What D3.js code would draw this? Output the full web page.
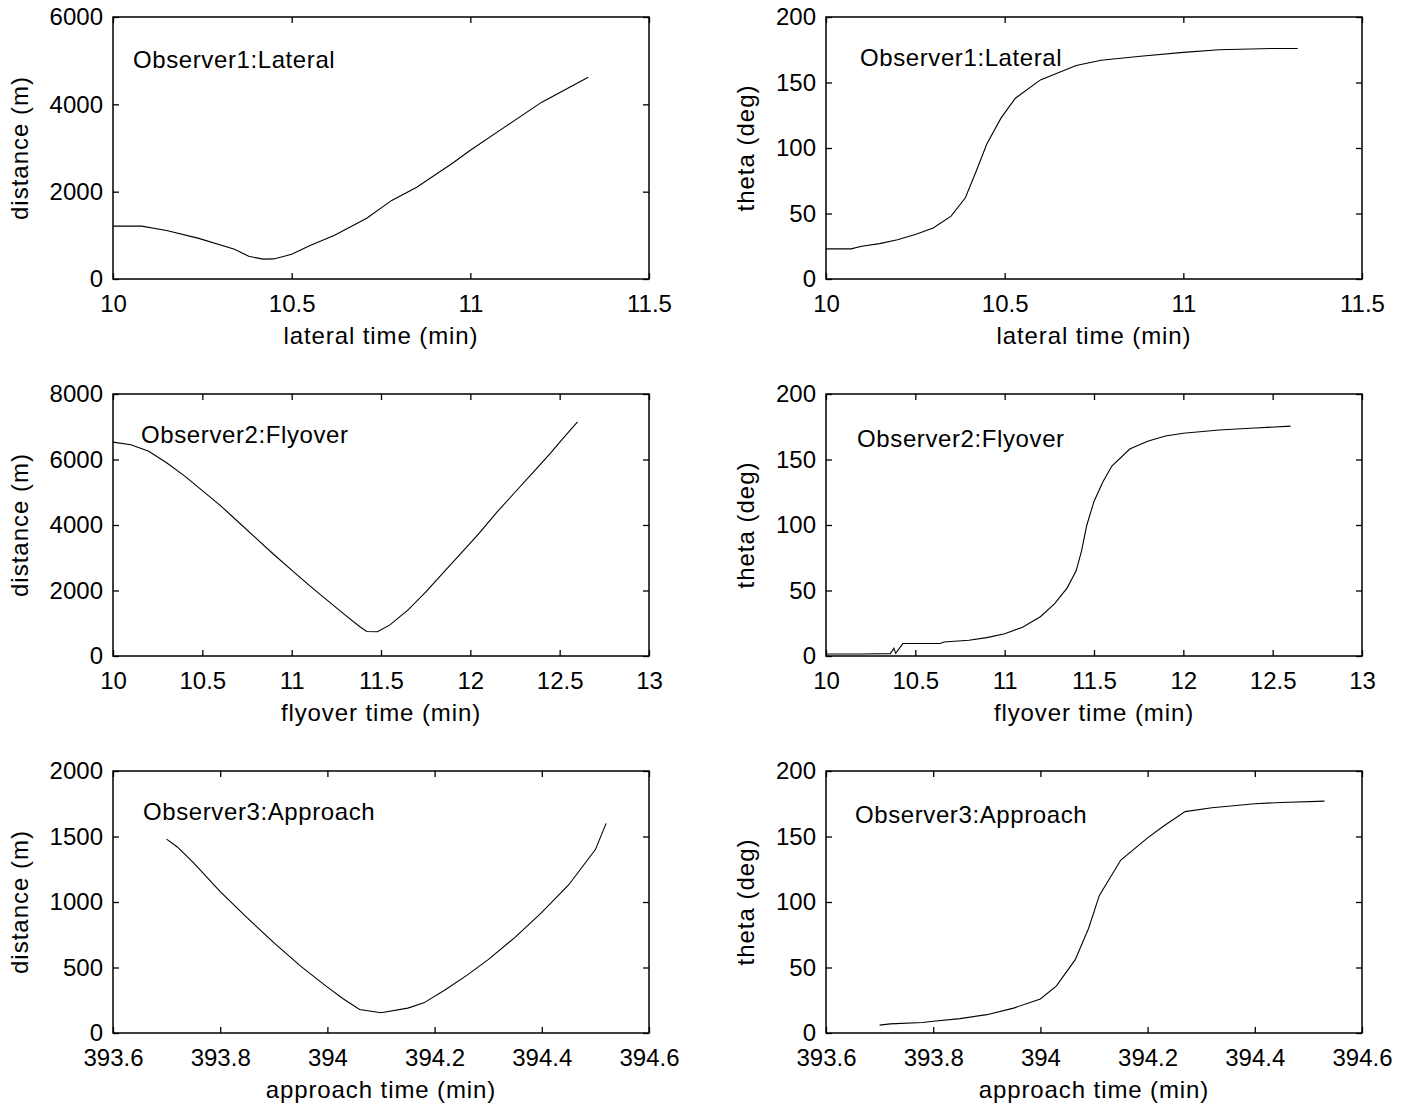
<!DOCTYPE html>
<html>
<head>
<meta charset="utf-8">
<script src="https://cdn.jsdelivr.net/npm/d3@7"></script>
<style>
  html, body { margin: 0; padding: 0; background: #fff; }
  svg text { font-family: "Liberation Sans", Arial, sans-serif; fill: #000; }
</style>
</head>
<body>
<svg id="chart" width="1409" height="1108"></svg>
<script>
// ---------- DATA ----------
// Observer1: Lateral
const lateralTime = [10.00, 10.08, 10.15, 10.24, 10.34, 10.38, 10.42, 10.45, 10.50, 10.55, 10.62, 10.71, 10.78, 10.85, 10.95, 11.00, 11.10, 11.20, 11.33];
const lateralDist = [1210, 1210, 1110, 930, 680, 520, 455, 460, 565, 760, 1000, 1390, 1800, 2100, 2650, 2950, 3500, 4050, 4620];
const lateralThetaTime = [10.00, 10.07, 10.10, 10.15, 10.20, 10.25, 10.30, 10.35, 10.39, 10.42, 10.45, 10.49, 10.53, 10.60, 10.70, 10.77, 10.88, 11.00, 11.10, 11.25, 11.32];
const lateralTheta = [23, 23, 25, 27, 30, 34, 39, 48, 62, 82, 103, 123, 138, 152, 163, 167, 170, 173, 175, 176, 176];

// Observer2: Flyover
const flyoverTime = [10.00, 10.10, 10.20, 10.30, 10.40, 10.50, 10.60, 10.70, 10.80, 10.90, 11.00, 11.10, 11.20, 11.30, 11.38, 11.42, 11.48, 11.55, 11.65, 11.75, 11.85, 11.95, 12.05, 12.15, 12.25, 12.35, 12.45, 12.52, 12.60];
const flyoverDist = [6530, 6450, 6250, 5900, 5500, 5050, 4600, 4100, 3600, 3100, 2620, 2150, 1700, 1250, 900, 750, 740, 950, 1400, 1950, 2550, 3150, 3750, 4400, 5000, 5600, 6200, 6650, 7150];
const flyoverThetaTime = [10.00, 10.20, 10.36, 10.38, 10.39, 10.43, 10.64, 10.66, 10.80, 10.90, 11.00, 11.10, 11.20, 11.28, 11.35, 11.40, 11.43, 11.46, 11.50, 11.55, 11.60, 11.70, 11.80, 11.90, 12.00, 12.20, 12.40, 12.60];
const flyoverTheta = [1.5, 1.5, 1.8, 6, 2, 9.5, 9.5, 10.7, 12, 14, 17, 22, 30, 40, 52, 65, 80, 100, 118, 133, 145, 158, 164, 168, 170, 172.5, 174, 175.5];

// Observer3: Approach
const approachTime = [393.70, 393.72, 393.75, 393.80, 393.85, 393.90, 393.95, 394.00, 394.03, 394.06, 394.10, 394.15, 394.18, 394.22, 394.26, 394.30, 394.35, 394.40, 394.45, 394.50, 394.52];
const approachDist = [1480, 1420, 1300, 1080, 880, 690, 510, 350, 260, 180, 155, 190, 230, 330, 440, 560, 730, 920, 1130, 1400, 1600];
const approachThetaTime = [393.70, 393.72, 393.78, 393.80, 393.85, 393.90, 393.95, 394.00, 394.03, 394.065, 394.09, 394.11, 394.15, 394.20, 394.23, 394.27, 394.32, 394.40, 394.45, 394.53];
const approachTheta = [6, 7, 8, 9, 11, 14, 19, 26, 36, 56, 80, 105, 132, 149, 158, 169, 172, 175, 176, 177];

// Tick values
const ticksLatX = [10, 10.5, 11, 11.5];
const ticksFlyX = [10, 10.5, 11, 11.5, 12, 12.5, 13];
const ticksAppX = [393.6, 393.8, 394, 394.2, 394.4, 394.6];
const ticksLatDist = [0, 2000, 4000, 6000];
const ticksFlyDist = [0, 2000, 4000, 6000, 8000];
const ticksAppDist = [0, 500, 1000, 1500, 2000];
const ticksTheta = [0, 50, 100, 150, 200];

// Labels
const xLabels = ["lateral time (min)", "flyover time (min)", "approach time (min)"];
const yLabels = ["distance (m)", "theta (deg)"];
const panelTitles = ["Observer1:Lateral", "Observer2:Flyover", "Observer3:Approach"];
// title anchor positions (data coords): [x, y]
const titlePosDist = [[10.056, 5015], [10.157, 6748], [393.656, 1687]];
const titlePosTheta = [[10.095, 169], [10.174, 166], [393.654, 167]];

// ---------- LAYOUT ----------
const svg = d3.select("#chart");
const colX = [[113, 649], [826, 1362]];
const rowTop = [17, 394, 771];
const plotH = 262;
const FS = 24;

const panels = [
  {row: 0, col: 0, xd: [10, 11.5], yd: [0, 6000], xt: ticksLatX, yt: ticksLatDist, xs: lateralTime, ys: lateralDist, xl: xLabels[0], yl: yLabels[0], title: panelTitles[0], tp: titlePosDist[0]},
  {row: 0, col: 1, xd: [10, 11.5], yd: [0, 200], xt: ticksLatX, yt: ticksTheta, xs: lateralThetaTime, ys: lateralTheta, xl: xLabels[0], yl: yLabels[1], title: panelTitles[0], tp: titlePosTheta[0]},
  {row: 1, col: 0, xd: [10, 13], yd: [0, 8000], xt: ticksFlyX, yt: ticksFlyDist, xs: flyoverTime, ys: flyoverDist, xl: xLabels[1], yl: yLabels[0], title: panelTitles[1], tp: titlePosDist[1]},
  {row: 1, col: 1, xd: [10, 13], yd: [0, 200], xt: ticksFlyX, yt: ticksTheta, xs: flyoverThetaTime, ys: flyoverTheta, xl: xLabels[1], yl: yLabels[1], title: panelTitles[1], tp: titlePosTheta[1]},
  {row: 2, col: 0, xd: [393.6, 394.6], yd: [0, 2000], xt: ticksAppX, yt: ticksAppDist, xs: approachTime, ys: approachDist, xl: xLabels[2], yl: yLabels[0], title: panelTitles[2], tp: titlePosDist[2]},
  {row: 2, col: 1, xd: [393.6, 394.6], yd: [0, 200], xt: ticksAppX, yt: ticksTheta, xs: approachThetaTime, ys: approachTheta, xl: xLabels[2], yl: yLabels[1], title: panelTitles[2], tp: titlePosTheta[2]}
];

const fmt = d => String(+d.toFixed(4));

panels.forEach(p => {
  const [x0, x1] = colX[p.col];
  const y0 = rowTop[p.row], y1 = y0 + plotH;
  const x = d3.scaleLinear().domain(p.xd).range([x0, x1]);
  const y = d3.scaleLinear().domain(p.yd).range([y1, y0]);
  const g = svg.append("g");

  // line
  const pts = p.xs.map((t, i) => [t, p.ys[i]]);
  g.append("path")
    .datum(pts)
    .attr("fill", "none")
    .attr("stroke", "#000")
    .attr("stroke-width", 1.1)
    .attr("d", d3.line().x(d => x(d[0])).y(d => y(d[1])));

  const tk = 6;
  const ax = g.append("g").attr("transform", `translate(0,${y1})`)
    .call(d3.axisBottom(x).tickValues(p.xt).tickFormat(fmt).tickSizeInner(-tk).tickSizeOuter(0).tickPadding(16));
  const at = g.append("g").attr("transform", `translate(0,${y0})`)
    .call(d3.axisTop(x).tickValues(p.xt).tickFormat("").tickSizeInner(-tk).tickSizeOuter(0));
  const al = g.append("g").attr("transform", `translate(${x0},0)`)
    .call(d3.axisLeft(y).tickValues(p.yt).tickFormat(fmt).tickSizeInner(-tk).tickSizeOuter(0).tickPadding(10));
  const ar = g.append("g").attr("transform", `translate(${x1},0)`)
    .call(d3.axisRight(y).tickValues(p.yt).tickFormat("").tickSizeInner(-tk).tickSizeOuter(0));

  [ax, at, al, ar].forEach(a => {
    a.select(".domain").remove();
    a.selectAll("line").attr("stroke", "#000").attr("stroke-width", 1.3);
    a.selectAll("text").attr("font-size", FS).attr("font-family", '"Liberation Sans", Arial, sans-serif').attr("fill", "#000");
  });

  g.append("rect")
    .attr("x", x0).attr("y", y0).attr("width", x1 - x0).attr("height", y1 - y0)
    .attr("fill", "none").attr("stroke", "#000").attr("stroke-width", 1.5);

  // x label
  g.append("text")
    .attr("x", (x0 + x1) / 2).attr("y", y1 + 65)
    .attr("text-anchor", "middle").attr("font-size", FS)
    .attr("letter-spacing", "0.9px")
    .text(p.xl);

  // y label positioned left of tick labels
  let minLeft = Infinity;
  al.selectAll("text").each(function() {
    minLeft = Math.min(minLeft, this.getBoundingClientRect().left);
  });
  const lx = minLeft - 22;
  const ly = (y0 + y1) / 2;
  g.append("text")
    .attr("transform", `translate(${lx},${ly}) rotate(-90)`)
    .attr("text-anchor", "middle").attr("font-size", FS)
    .attr("letter-spacing", "1px")
    .text(p.yl);

  // title
  g.append("text")
    .attr("x", x(p.tp[0])).attr("y", y(p.tp[1]))
    .attr("dy", "0.35em")
    .attr("font-size", FS)
    .attr("letter-spacing", "0.6px")
    .text(p.title);
});
</script>
</body>
</html>
